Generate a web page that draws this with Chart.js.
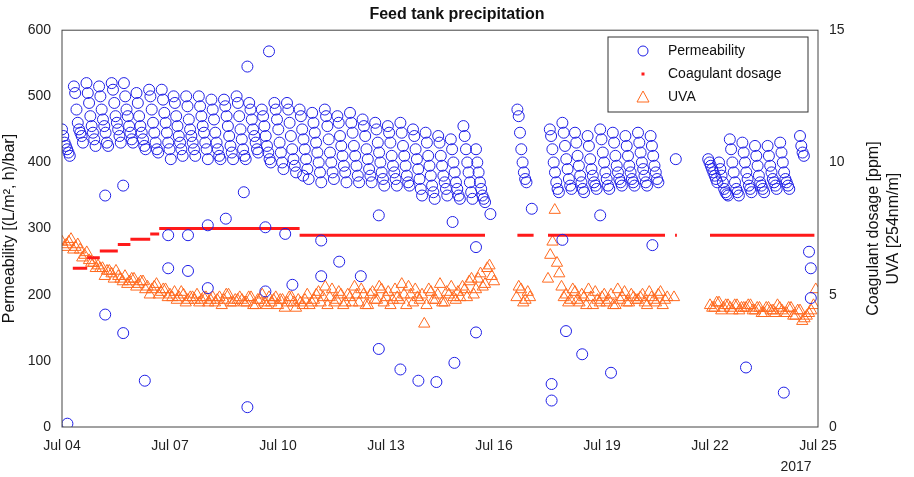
<!DOCTYPE html>
<html>
<head>
<meta charset="utf-8">
<script src="https://cdn.jsdelivr.net/npm/chart.js@4"></script>
<style>
  body { margin: 0; background: #fff; }
  #wrap { width: 914px; height: 477px; }
</style>
</head>
<body>
<div id="wrap"><canvas id="myChart"></canvas></div>
<script>
// x values are days since Jul 04 2017
var tickLabels = ['Jul 04', 'Jul 07', 'Jul 10', 'Jul 13', 'Jul 16', 'Jul 19', 'Jul 22', 'Jul 25'];

// permeability cycles: [start day, values falling through the filtration cycle]
var permCycles = [
  [0.00, [450, 440, 430, 425, 420, 415, 410]],
  [0.33, [515, 505, 480, 460, 450, 445, 440, 430]],
  [0.68, [520, 505, 490, 470, 455, 445, 435, 425]],
  [1.03, [515, 500, 480, 465, 455, 445, 430, 425]],
  [1.38, [520, 510, 490, 470, 460, 450, 440, 430]],
  [1.72, [520, 500, 480, 470, 455, 445, 435, 430]],
  [2.07, [505, 490, 470, 455, 445, 435, 425, 420]],
  [2.42, [510, 500, 480, 460, 445, 430, 420, 415]],
  [2.77, [510, 495, 475, 460, 445, 430, 420, 405]],
  [3.10, [500, 490, 470, 455, 440, 430, 420, 410]],
  [3.45, [500, 485, 465, 450, 440, 430, 420, 410]],
  [3.80, [500, 485, 470, 455, 445, 430, 420, 405]],
  [4.15, [495, 480, 465, 445, 430, 420, 410, 405]],
  [4.50, [495, 485, 470, 455, 440, 425, 415, 405]],
  [4.85, [500, 490, 470, 450, 435, 420, 410, 405]],
  [5.20, [490, 480, 465, 450, 440, 430, 420, 415]],
  [5.55, [480, 470, 455, 440, 425, 415, 405, 400]],
  [5.90, [490, 480, 465, 450, 430, 415, 400, 390]],
  [6.25, [490, 480, 460, 440, 420, 405, 395, 385]],
  [6.60, [480, 470, 450, 435, 420, 405, 390, 375]],
  [6.95, [475, 460, 445, 430, 415, 400, 385, 370]],
  [7.30, [480, 470, 455, 435, 415, 400, 385, 375]],
  [7.65, [470, 460, 440, 425, 410, 395, 385, 370]],
  [8.00, [475, 460, 445, 425, 410, 395, 380, 370]],
  [8.35, [465, 455, 440, 420, 405, 390, 380, 370]],
  [8.70, [460, 450, 430, 415, 400, 385, 375, 365]],
  [9.05, [455, 445, 430, 410, 395, 385, 375, 365]],
  [9.40, [460, 445, 425, 410, 395, 380, 370, 365]],
  [9.75, [450, 440, 420, 405, 390, 375, 360, 350]],
  [10.10, [445, 430, 410, 395, 380, 365, 355, 345]],
  [10.45, [440, 430, 410, 395, 380, 370, 360, 350]],
  [10.80, [435, 420, 400, 385, 370, 360, 350, 345]],
  [11.15, [455, 440, 420, 400, 385, 370, 355, 345]],
  [11.50, [420, 400, 385, 370, 360, 350, 345, 340]],
  [12.65, [480, 470, 445, 420, 400, 385, 375, 370]],
  [13.55, [450, 440, 420, 400, 385, 370, 360, 355]],
  [13.90, [460, 445, 425, 405, 390, 375, 365, 360]],
  [14.25, [445, 430, 410, 395, 380, 370, 360, 355]],
  [14.60, [440, 425, 405, 390, 380, 370, 365, 360]],
  [14.95, [450, 435, 415, 400, 385, 375, 365, 360]],
  [15.30, [445, 430, 410, 395, 385, 375, 370, 365]],
  [15.65, [440, 425, 410, 395, 385, 375, 370, 365]],
  [16.00, [445, 430, 415, 400, 390, 380, 370, 365]],
  [16.35, [440, 425, 410, 395, 385, 375, 370]],
  [17.05, [405]],
  [17.95, [405, 400, 395, 390, 385, 380, 375, 370]],
  [18.25, [400, 390, 380, 370, 360, 355, 352, 350]],
  [18.55, [435, 420, 400, 385, 370, 360, 355, 350]],
  [18.90, [430, 415, 400, 385, 375, 365, 360, 355]],
  [19.25, [425, 410, 395, 380, 370, 365, 360, 355]],
  [19.60, [425, 410, 395, 385, 375, 370, 365, 360]],
  [19.95, [430, 415, 400, 385, 375, 370, 365, 360]],
  [20.50, [440, 425, 415, 410]]
];
var permStep = 0.036;

// scattered permeability readings
var permOutliers = [
  [0.15, 5], [1.2, 350], [1.2, 170], [1.7, 365], [1.7, 142], [2.3, 70], [2.95, 290], [2.95, 240],
  [3.5, 290], [3.5, 236], [4.05, 305], [4.05, 210], [4.55, 315], [5.15, 30], [5.05, 355],
  [5.15, 545], [5.75, 568], [5.65, 302], [5.65, 205], [6.2, 292], [6.4, 215], [6.7, 380],
  [7.2, 228], [7.2, 282], [7.7, 250], [8.3, 228], [8.8, 118], [8.8, 320], [9.4, 87], [9.9, 70],
  [10.4, 68], [10.85, 310], [10.9, 97], [11.5, 143], [11.5, 272], [11.9, 322], [13.05, 330],
  [13.6, 40], [13.6, 65], [13.9, 283], [14.0, 145], [14.45, 110], [14.95, 320], [15.25, 82],
  [16.4, 275], [19.0, 90], [20.05, 52], [20.75, 265], [20.8, 240], [20.8, 195]
];

// coagulant dosage steps [from day, to day, ppm]
var coagSteps = [
  [0.3, 0.7, 6.0], [0.7, 1.05, 6.4], [1.05, 1.55, 6.65], [1.55, 1.9, 6.9], [1.9, 2.45, 7.1],
  [2.45, 2.7, 7.3], [2.7, 6.6, 7.5], [6.6, 11.75, 7.25], [12.65, 13.1, 7.25],
  [13.5, 16.75, 7.25], [17.03, 17.08, 7.25], [18.0, 20.9, 7.25]
];

// UVA readings every 1/8 day from Jul 04 0:00 (null = no reading)
var uvaStep = 0.125;
var uvaValues = [
  7.0, 6.9, 7.1, 6.8, 6.7, 6.5, 6.3, 6.2,
  6.1, 6.0, 5.9, 5.8, 5.9, 5.6, 5.7, 5.5,
  5.6, 5.4, 5.5, 5.3, 5.2, 5.4, 5.1, 5.2,
  5.0, 5.1, 4.9, 5.0, 4.8, 4.9, 5.0, 4.8,
  4.9, 4.8, 4.7, 4.9, 4.8, 5.0, 4.7, 4.8,
  4.8, 4.7, 4.9, 4.6, 4.8, 4.7, 4.9, 4.8,
  4.6, 4.8, 4.7, 4.9, 4.5, 4.7, 4.8, 4.6,
  4.8, 5.1, 4.9, 4.6, 5.2, 4.8, 5.0, 4.7,
  4.9, 5.3, 4.7, 5.0, 4.6, 5.1, 4.8, 5.2,
  4.9, 4.6, 5.2, 4.8, 5.0, 5.3, 4.7, 4.9,
  5.0, 4.6, 5.1, 4.8, 5.4, 4.7, 5.0, 4.9,
  5.1, 5.3, 4.9, 5.6, 5.2, 5.8, 5.4, 6.1,
  5.5, null, null, null, null, 4.9, 5.2, 4.8,
  4.9, null, null, null, 5.6, 7.0, 6.2, 5.3,
  5.0, 4.8, 5.1, 4.7, 4.9, 5.2, 4.6, 4.8,
  4.9, 4.7, 5.0, 4.6, 4.8, 5.1, 4.7, 4.9,
  4.8, 5.0, 4.6, 4.9, 4.7, 5.1, 4.8, null,
  4.9, null, null, null, null, null, null, null,
  4.6, 4.5, 4.7, 4.5, 4.6, 4.4, 4.6, 4.5,
  4.5, 4.6, 4.4, 4.5, 4.3, 4.5, 4.4, 4.6,
  4.4, 4.3, 4.5, 4.2, 4.4, 4.1, 4.3, 4.6
];
// second UVA sensor pass, offset by half a step
var uvaValues2 = [
  6.8, 7.0, 6.7, 6.9, 6.4, 6.6, 6.2, 6.0,
  6.0, 5.7, 5.9, 5.6, 5.7, 5.5, 5.4, 5.6,
  5.3, 5.5, 5.2, 5.0, 5.3, 5.0, 5.2, 4.9,
  4.9, 4.8, 5.1, 4.7, 4.9, 4.8, 4.7, 4.9,
  4.7, 4.9, 4.8, 4.6, 5.0, 4.7, 4.8, 4.9,
  4.7, 4.9, 4.6, 4.8, 5.0, 4.6, 4.7, 4.9,
  4.8, 4.5, 4.9, 4.7, 4.8, 4.6, 5.0, 4.7,
  5.0, 4.7, 5.3, 4.9, 4.7, 5.1, 4.6, 5.0,
  4.7, 5.0, 5.2, 4.6, 5.0, 4.8, 5.3, 4.7,
  5.1, 4.8, 4.9, 5.4, 4.6, 5.0, 5.2, 4.8,
  3.9, 5.2, 4.8, 5.0, 4.7, 5.1, 5.3, 4.8,
  4.9, 5.2, 5.5, 5.0, 5.6, 5.3, 6.0, 5.7,
  null, null, null, null, null, 5.3, 4.7, 5.1,
  null, null, null, null, 6.5, 8.2, 5.8, 4.9,
  4.7, 5.2, 4.8, 5.0, 4.6, 4.9, 5.1, 4.7,
  5.0, 4.8, 4.6, 5.2, 4.9, 4.7, 5.0, 4.8,
  4.9, 4.7, 5.1, 4.8, 5.0, 4.6, 4.9, null,
  null, null, null, null, null, null, null, null,
  4.5, 4.7, 4.4, 4.6, 4.5, 4.6, 4.4, 4.5,
  4.6, 4.4, 4.5, 4.3, 4.5, 4.4, 4.3, 4.5,
  4.3, 4.5, 4.2, 4.4, 4.0, 4.2, 4.4, 5.2
];

var permData = [];
permCycles.forEach(function (c) {
  c[1].forEach(function (v, i) { permData.push({ x: c[0] + i * permStep, y: v }); });
});
permOutliers.forEach(function (p) { permData.push({ x: p[0], y: p[1] }); });

var coagData = [];
coagSteps.forEach(function (s) {
  coagData.push({ x: s[0], y: s[2] }, { x: s[1], y: s[2] }, { x: s[1], y: null });
});

var uvaData = [];
uvaValues.forEach(function (v, i) { if (v !== null) uvaData.push({ x: i * uvaStep, y: v }); });
uvaValues2.forEach(function (v, i) { if (v !== null) uvaData.push({ x: i * uvaStep + uvaStep / 2, y: v }); });

var BLUE = '#1f1fe6', RED = '#ff1a1a', ORANGE = '#ff6a1f';
var FONT = 'Arial, "Liberation Sans"';

var framePlugin = {
  id: 'frame',
  afterDraw: function (chart) {
    var ctx = chart.ctx, a = chart.chartArea;
    ctx.save();
    ctx.strokeStyle = '#444';
    ctx.lineWidth = 1;
    ctx.strokeRect(a.left, a.top, a.right - a.left, a.bottom - a.top);
    // year label under last tick
    ctx.fillStyle = '#222';
    ctx.font = '14px ' + FONT;
    ctx.textAlign = 'center';
    ctx.fillText('2017', a.right - 22, a.bottom + 44);
    // right axis title, read bottom to top
    ctx.save();
    ctx.translate(a.right + 56, (a.top + a.bottom) / 2);
    ctx.rotate(-Math.PI / 2);
    ctx.font = '16px ' + FONT;
    ctx.fillStyle = '#111';
    ctx.textBaseline = 'middle';
    ctx.fillText('Coagulant dosage [ppm]', 0, 0);
    ctx.fillText('UVA [254nm/m]', 0, 20);
    ctx.restore();
    // legend box
    var lx = 608, ly = 37, lw = 200, lh = 75;
    ctx.fillStyle = '#fff';
    ctx.fillRect(lx, ly, lw, lh);
    ctx.strokeStyle = '#333';
    ctx.strokeRect(lx, ly, lw, lh);
    ctx.textAlign = 'left';
    ctx.textBaseline = 'middle';
    ctx.font = '14px ' + FONT;
    var rows = ['Permeability', 'Coagulant dosage', 'UVA'];
    rows.forEach(function (t, i) {
      var cy = ly + 14 + i * 23, cx = lx + 35;
      ctx.lineWidth = 1;
      if (i === 0) {
        ctx.strokeStyle = BLUE;
        ctx.beginPath(); ctx.arc(cx, cy, 5, 0, Math.PI * 2); ctx.stroke();
      } else if (i === 1) {
        ctx.fillStyle = RED;
        ctx.fillRect(cx - 1.5, cy - 1.5, 3, 3);
      } else {
        ctx.strokeStyle = ORANGE;
        ctx.beginPath(); ctx.moveTo(cx, cy - 6); ctx.lineTo(cx + 6, cy + 5); ctx.lineTo(cx - 6, cy + 5); ctx.closePath(); ctx.stroke();
      }
      ctx.fillStyle = '#111';
      ctx.fillText(t, lx + 60, cy);
    });
    ctx.restore();
  }
};

new Chart(document.getElementById('myChart'), {
  type: 'scatter',
  data: {
    datasets: [
      {
        label: 'Permeability',
        data: permData,
        yAxisID: 'y',
        pointStyle: 'circle',
        pointRadius: 5.5,
        borderColor: BLUE,
        borderWidth: 1,
        backgroundColor: 'rgba(0,0,0,0)'
      },
      {
        label: 'Coagulant dosage',
        type: 'line',
        data: coagData,
        yAxisID: 'y2',
        borderColor: RED,
        borderWidth: 3,
        pointRadius: 0,
        spanGaps: false,
        fill: false
      },
      {
        label: 'UVA',
        data: uvaData,
        yAxisID: 'y2',
        pointStyle: 'triangle',
        pointRadius: 6.5,
        borderColor: ORANGE,
        borderWidth: 1,
        backgroundColor: 'rgba(0,0,0,0)'
      }
    ]
  },
  options: {
    responsive: true,
    maintainAspectRatio: false,
    animation: false,
    plugins: {
      legend: { display: false },
      tooltip: { enabled: false },
      title: {
        display: true,
        text: 'Feed tank precipitation',
        color: '#111',
        font: { family: FONT, size: 16, weight: 'bold' },
        padding: { top: 5, bottom: 6 }
      }
    },
    scales: {
      x: {
        type: 'linear',
        min: 0, max: 21,
        afterFit: function (s) { s.height = 50; },
        afterBuildTicks: function (s) {
          s.ticks = tickLabels.map(function (l, i) { return { value: i * 3 }; });
        },
        ticks: {
          color: '#222',
          font: { family: FONT, size: 14 },
          callback: function (v) { return tickLabels[v / 3]; }
        },
        grid: { display: false },
        border: { display: false }
      },
      y: {
        position: 'left',
        min: 0, max: 600,
        afterFit: function (s) { s.width = 62; },
        ticks: { stepSize: 100, color: '#222', font: { family: FONT, size: 14 } },
        grid: { display: false },
        border: { display: false },
        title: {
          display: true,
          text: 'Permeability [(L/m², h)/bar]',
          color: '#111',
          padding: 0,
          font: { family: FONT, size: 16 }
        }
      },
      y2: {
        position: 'right',
        min: 0, max: 15,
        afterFit: function (s) { s.width = 96; },
        ticks: { stepSize: 5, color: '#222', font: { family: FONT, size: 14 } },
        grid: { display: false },
        border: { display: false }
      }
    }
  },
  plugins: [framePlugin]
});
</script>
</body>
</html>
